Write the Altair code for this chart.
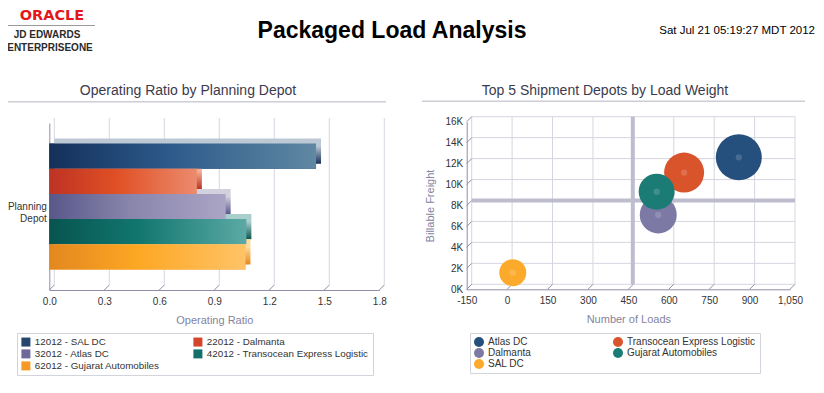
import json
import altair as alt
import pandas as pd

# ---------------- data ----------------
report_title = "Packaged Load Analysis"
report_date = "Sat Jul 21 05:19:27 MDT 2012"
logo_name = "ORACLE"
logo_line1 = "JD EDWARDS"
logo_line2 = "ENTERPRISEONE"

left_title = "Operating Ratio by Planning Depot"
left_category = "Planning Depot"
left_x_title = "Operating Ratio"
planning_depots = ["12012 - SAL DC", "22012 - Dalmanta", "32012 - Atlas DC",
                   "42012 - Transocean Express Logistic", "62012 - Gujarat Automobiles"]
operating_ratio = [1.455, 0.805, 0.962, 1.075, 1.07]
ratio_ticks = [0.0, 0.3, 0.6, 0.9, 1.2, 1.5, 1.8]

right_title = "Top 5 Shipment Depots by Load Weight"
right_x_title = "Number of Loads"
right_y_title = "Billable Freight"
shipment_depots = ["Atlas DC", "Transocean Express Logistic", "Dalmanta",
                   "Gujarat Automobiles", "SAL DC"]
number_of_loads = [860, 657, 561, 555, 21]
billable_freight = [12600, 11140, 7100, 9320, 1590]
load_weight = [2116, 1600, 1369, 1296, 729]
loads_ticks = [-150, 0, 150, 300, 450, 600, 750, 900, 1050]
freight_ticks = [0, 2000, 4000, 6000, 8000, 10000, 12000, 14000, 16000]
reference_loads = [448]
reference_freight = [8000]

# ---------------- styles ----------------
W, H = 808, 377
FONT = "Liberation Sans"
AXIS_LINE = "#8f8dab"
GRID = "#d6d6e0"
TITLE_GREY = "#85839f"
LABEL = "#333333"
DEPTH = 5

bar_mid = ["#24466f", "#d4452a", "#6e6a9c", "#137069", "#f79a25"]
bar_stops = [
    ["#14305a", "#2c5a8a", "#6088a3"],
    ["#bd3324", "#e04f25", "#eb8b6d"],
    ["#585789", "#8884ab", "#aba5c5"],
    ["#08544f", "#11766f", "#5ba9a5"],
    ["#e3871f", "#fda724", "#ffc366"],
]
bar_face = ["#bcc8d4", "#f3ad95", "#d2d1de", "#a9cecb", "#ffdb9e"]
bubble_colors = ["#25507d", "#d9542b", "#7d79a5", "#1b7b75", "#fcaa2c"]


def column_major(items, ncols=2):
    """Reorder so a column-filled legend reads row by row."""
    nrows = -(-len(items) // ncols)
    return [items[r * ncols + c] for c in range(ncols) for r in range(nrows)
            if r * ncols + c < len(items)]


left_df = pd.DataFrame({"depot": planning_depots, "ratio": operating_ratio})
right_df = pd.DataFrame({"depot": shipment_depots, "loads": number_of_loads,
                         "freight": billable_freight, "weight": load_weight})
rt_df = pd.DataFrame({"v": ratio_ticks})
lt_df = pd.DataFrame({"v": loads_ticks})
ft_df = pd.DataFrame({"v": freight_ticks})

# ---------------- left panel ----------------
XL = [41.3, 371.3]
YL = [115, 282]
xl = alt.Scale(domain=[ratio_ticks[0], ratio_ticks[-1]], range=XL, nice=False, zero=True)
yl = alt.Scale(domain=planning_depots, range=YL, paddingInner=0, paddingOuter=0.813)

mid = planning_depots[len(planning_depots) // 2]
y_label_expr = f"datum.value == '{mid}' ? {json.dumps(left_category.split())} : ''"

ax_ly = alt.Axis(orient="left", offset=-XL[0], title=None, ticks=False, grid=False,
                 domainColor=AXIS_LINE, labelExpr=y_label_expr, labelFontSize=10,
                 labelColor=LABEL, labelPadding=3, labelAlign="right")
ax_lx = alt.Axis(orient="bottom", offset=YL[1] - H, values=ratio_ticks, format=".1f",
                 grid=False, ticks=False, labelPadding=6, labelFlush=False,
                 labelOverlap=False, domainColor=AXIS_LINE, labelFontSize=10,
                 labelColor=LABEL, title=left_x_title, titleColor=TITLE_GREY,
                 titleFontSize=11, titleFontWeight="normal", titlePadding=8)

left_legend_domain = column_major(planning_depots)
left_legend_range = [bar_mid[planning_depots.index(d)] for d in left_legend_domain]

left_grid = alt.Chart(rt_df).mark_rule(color=GRID, strokeWidth=1, xOffset=DEPTH, x2Offset=DEPTH).encode(
    x=alt.X("v:Q", scale=xl, axis=ax_lx), x2="v:Q",
    y=alt.value(YL[0] - DEPTH), y2=alt.value(YL[1] - DEPTH))
left_ticks = alt.Chart(rt_df).mark_rule(color=AXIS_LINE, strokeWidth=1, x2Offset=DEPTH).encode(
    x=alt.X("v:Q", scale=xl, axis=ax_lx), x2="v:Q",
    y=alt.value(YL[1]), y2=alt.value(YL[1] - DEPTH))

left_base = alt.Chart(left_df).mark_bar().encode(
    y=alt.Y("depot:N", scale=yl, axis=ax_ly),
    x=alt.X("ratio:Q", scale=xl, axis=ax_lx),
    color=alt.Color("depot:N", scale=alt.Scale(domain=left_legend_domain, range=left_legend_range),
                    legend=alt.Legend(orient="none", legendX=9, legendY=325, columns=2,
                                      columnPadding=33, rowPadding=1, padding=4,
                                      strokeColor="#d3d3dc", fillColor="white",
                                      labelFontSize=9.8, labelColor=LABEL, labelLimit=300,
                                      symbolType="square", symbolSize=81,
                                      symbolStrokeWidth=0, title=None)),
)

left_backs, left_fronts = [], []
for name, stops, face in zip(planning_depots, bar_stops, bar_face):
    sub = alt.Chart(left_df).transform_filter(alt.datum.depot == name)
    back_grad = alt.LinearGradient(gradient="linear", x1=0, x2=0, y1=0, y2=1, stops=[
        alt.GradientStop(color=face, offset=0), alt.GradientStop(color=face, offset=0.3),
        alt.GradientStop(color=stops[0], offset=1)])
    left_backs.append(sub.mark_bar(color=back_grad, xOffset=DEPTH, x2Offset=DEPTH,
                                   yOffset=-DEPTH, y2Offset=-DEPTH).encode(
        y=alt.Y("depot:N", scale=yl, axis=ax_ly), x=alt.X("ratio:Q", scale=xl, axis=ax_lx)))
    front_grad = alt.LinearGradient(gradient="linear", x1=0, x2=1, y1=0, y2=0, stops=[
        alt.GradientStop(color=stops[0], offset=0), alt.GradientStop(color=stops[1], offset=0.45),
        alt.GradientStop(color=stops[2], offset=1)])
    left_fronts.append(sub.mark_bar(color=front_grad).encode(
        y=alt.Y("depot:N", scale=yl, axis=ax_ly), x=alt.X("ratio:Q", scale=xl, axis=ax_lx)))

left = alt.layer(left_grid, left_ticks, left_base, *left_backs, *left_fronts)

# ---------------- right panel ----------------
XR = [458.7, 782.0]
YR = [281.3, 113.7]
xr = alt.Scale(domain=[loads_ticks[0], loads_ticks[-1]], range=XR, nice=False, zero=False)
yr = alt.Scale(domain=[freight_ticks[0], freight_ticks[-1]], range=YR, nice=False, zero=True)

x_label_expr = "(datum.value < 0 ? '-' : '') + format(abs(datum.value), ',')"
ax_rx = alt.Axis(orient="bottom", offset=YR[0] - H, values=loads_ticks, labelExpr=x_label_expr,
                 grid=False, ticks=False, labelPadding=6, labelFlush=False, labelOverlap=False,
                 domainColor=AXIS_LINE, labelFontSize=10, labelColor=LABEL,
                 title=right_x_title, titleColor=TITLE_GREY, titleFontSize=11,
                 titleFontWeight="normal", titlePadding=8)
ax_ry = alt.Axis(orient="left", offset=-XR[0], values=freight_ticks,
                 labelExpr="(datum.value / 1000) + 'K'", grid=False, ticks=False,
                 labelPadding=4, labelOverlap=False, domainColor=AXIS_LINE, labelFontSize=10,
                 labelColor=LABEL, title=right_y_title, titleColor=TITLE_GREY, titleFontSize=11,
                 titleFontWeight="normal", titlePadding=9)

right_legend_domain = column_major(shipment_depots)
right_legend_range = [bubble_colors[shipment_depots.index(d)] for d in right_legend_domain]

r_vgrid = alt.Chart(lt_df).mark_rule(color=GRID, xOffset=DEPTH, x2Offset=DEPTH).encode(
    x=alt.X("v:Q", scale=xr, axis=ax_rx), x2="v:Q",
    y=alt.value(YR[1] - DEPTH), y2=alt.value(YR[0] - DEPTH))
r_hgrid = alt.Chart(ft_df).mark_rule(color=GRID, yOffset=-DEPTH, y2Offset=-DEPTH).encode(
    y=alt.Y("v:Q", scale=yr, axis=ax_ry), y2="v:Q",
    x=alt.value(XR[0] + DEPTH), x2=alt.value(XR[1] + DEPTH))
r_xticks = alt.Chart(lt_df).mark_rule(color=AXIS_LINE, x2Offset=DEPTH).encode(
    x=alt.X("v:Q", scale=xr, axis=ax_rx), x2="v:Q",
    y=alt.value(YR[0]), y2=alt.value(YR[0] - DEPTH))
r_yticks = alt.Chart(ft_df).mark_rule(color=AXIS_LINE, y2Offset=-DEPTH).encode(
    y=alt.Y("v:Q", scale=yr, axis=ax_ry), y2="v:Q",
    x=alt.value(XR[0]), x2=alt.value(XR[0] + DEPTH))

r_ref_v = alt.Chart(pd.DataFrame({"v": reference_loads})).mark_rule(
    color="#bebdd0", strokeWidth=4, xOffset=DEPTH, x2Offset=DEPTH).encode(
    x=alt.X("v:Q", scale=xr, axis=ax_rx), x2="v:Q",
    y=alt.value(YR[1] - DEPTH), y2=alt.value(YR[0] - DEPTH))
r_ref_h = alt.Chart(pd.DataFrame({"v": reference_freight})).mark_rule(
    color="#bebdd0", strokeWidth=4, yOffset=-DEPTH, y2Offset=-DEPTH).encode(
    y=alt.Y("v:Q", scale=yr, axis=ax_ry), y2="v:Q",
    x=alt.value(XR[0] + DEPTH), x2=alt.value(XR[1] + DEPTH))

r_bubbles = alt.Chart(right_df).mark_circle(opacity=1).encode(
    x=alt.X("loads:Q", scale=xr, axis=ax_rx),
    y=alt.Y("freight:Q", scale=yr, axis=ax_ry),
    size=alt.Size("weight:Q", scale=alt.Scale(domain=[0, max(load_weight)],
                                              range=[0, max(load_weight)]), legend=None),
    color=alt.Color("depot:N", scale=alt.Scale(domain=right_legend_domain, range=right_legend_range),
                    legend=alt.Legend(orient="none", legendX=462, legendY=325, columns=2,
                                      columnPadding=82, rowPadding=1, padding=4,
                                      strokeColor="#d3d3dc", fillColor="white",
                                      labelFontSize=10, labelColor=LABEL, labelLimit=300,
                                      symbolType="circle", symbolSize=100,
                                      symbolStrokeWidth=0, symbolOpacity=1, title=None)),
)
r_glow = alt.Chart(right_df).mark_circle(color="white", opacity=0.16, size=40).encode(
    x=alt.X("loads:Q", scale=xr, axis=ax_rx), y=alt.Y("freight:Q", scale=yr, axis=ax_ry))

right = alt.layer(r_vgrid, r_hgrid, r_xticks, r_yticks, r_ref_v, r_ref_h, r_bubbles, r_glow)

# ---------------- header & panel decorations ----------------
one = alt.Data(values=[{}])


def label(txt, x, y, **kw):
    return alt.Chart(one).mark_text(text=txt, **kw).encode(x=alt.value(x), y=alt.value(y))


def hline(x1, x2, y, color, width):
    return alt.Chart(one).mark_rule(color=color, strokeWidth=width).encode(
        x=alt.value(x1), x2=alt.value(x2), y=alt.value(y))


decor = [
    label(logo_name, 44, 1, font="DejaVu Sans", fontSize=14.5, fontWeight="bold",
          color="#e3171c", align="center", baseline="top"),
    hline(0, 87, 17.5, "#9a9a9a", 1),
    label(logo_line1, 39, 27, fontSize=10, fontWeight="bold", color="#2b2b2b",
          align="center", baseline="middle"),
    label(logo_line2, 42, 40, fontSize=10, fontWeight="bold", color="#2b2b2b",
          align="center", baseline="middle"),
    label(report_title, 384, 23, fontSize=23, fontWeight="bold", color="#000000",
          align="center", baseline="middle"),
    label(report_date, 807, 23, fontSize=11.5, color="#000000",
          align="right", baseline="middle"),
    label(left_title, 180, 83, fontSize=14, color="#3b3b4d", align="center",
          baseline="middle"),
    hline(0, 378, 93.7, "#cdcdd6", 1.5),
    label(right_title, 597, 82.5, fontSize=14, color="#3b3b4d", align="center",
          baseline="middle"),
    hline(414, 797, 93.2, "#cdcdd6", 1.5),
]

chart = alt.layer(left, right, *decor).resolve_scale(
    x="independent", y="independent", color="independent", size="independent"
).properties(
    width=W, height=H, padding=0, autosize=alt.AutoSizeParams(type="none")
).configure(font=FONT).configure_view(stroke=None)

chart.save("out.html", embed_options={"renderer": "svg", "actions": False})
